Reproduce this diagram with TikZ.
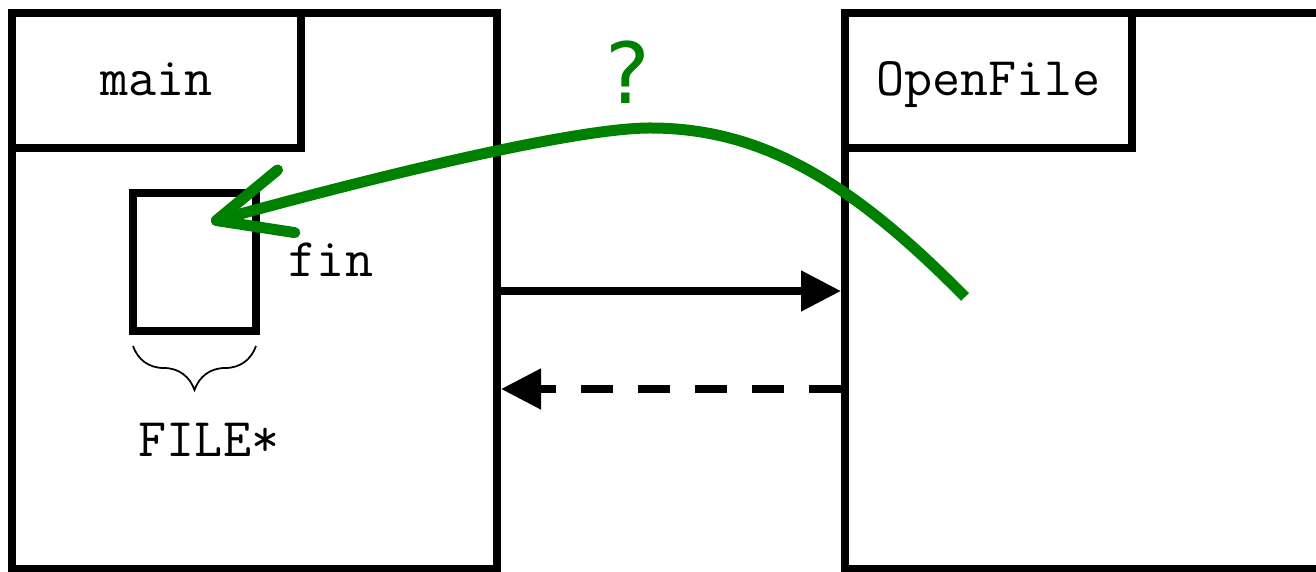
\documentclass[tikz,border=0pt]{standalone}
\usepackage{fontspec}
\newfontfamily\askfont{DejaVu Sans}
\usepackage{tikz}
\usetikzlibrary{arrows.meta, decorations.pathreplacing}
\definecolor{askgreen}{RGB}{0,128,0}

\begin{document}
\begin{tikzpicture}[
    frame/.style={draw, line width=0.16cm, minimum width=#1, minimum height=11.12cm},
    title/.style={draw, line width=0.16cm, minimum height=2.7cm, minimum width=#1,
        font=\ttfamily\fontsize{31}{36}\selectfont, text height=0.6cm, text depth=0pt},
    label/.style={font=\ttfamily\fontsize{31}{36}\selectfont, anchor=base},
    callarrow/.style={line width=0.16cm, -{Triangle[length=0.8cm, width=0.78cm]}}
]
        \useasboundingbox (0,0) rectangle (26.32,11.44);
        \clip (0,0) rectangle (26.32,11.44);
        % Frames
        \node[frame=9.7cm] (mainframe) at (5.09,5.62) {};
        \node[frame=11.1cm] (openframe) at (22.45,5.62) {};
        \node[title=5.78cm] (maintitle) at (3.13,9.83) {main};
        \node[title=5.74cm] (opentitle) at (19.77,9.83) {OpenFile};
        % Variable fin
        \node[draw, line width=0.16cm, minimum width=2.46cm, minimum height=2.76cm] (finbox) at (3.89,6.2) {};
        \node[label] (finlabel) at (6.62,5.9) {fin};
        \draw[line width=0.035cm, decorate, decoration={brace, amplitude=0.88cm}]
            ([shift={(-0.08cm,-0.22cm)}]finbox.south east) -- ([shift={(0.08cm,-0.22cm)}]finbox.south west);
        \node[label] (filelabel) at (4.18,2.3) {FILE*};
        % Call and return
        \draw[callarrow] (mainframe.east) -- (openframe.west);
        \draw[callarrow, dash pattern=on 0.64cm off 0.5cm]
            ([yshift=-1.96cm]openframe.west) -- ([yshift=-1.96cm]mainframe.east);
        % The question
        \coordinate (callsite) at (19.3,5.5);
        \coordinate (finptr) at (4.22,7.0);
        \coordinate (arctop) at (13.0,8.88);
        \draw[askgreen, line width=0.22cm, -{Straight Barb[length=1.45cm, width=1.3cm, round]}]
            (callsite) .. controls (17.0,7.84) and (15.2,8.88) .. (arctop)
            .. controls (11.6,8.88) and (8.0,8.04) .. (finptr);
        \node[askgreen, font=\askfont\fontsize{48}{56}\selectfont, anchor=base] (ask) at (12.56,9.36) {?};
    \end{tikzpicture}
\end{document}
